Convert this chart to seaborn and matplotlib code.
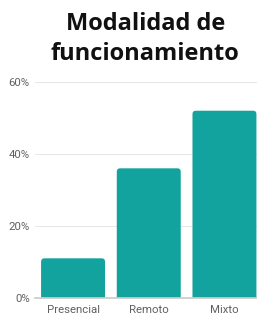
import matplotlib
matplotlib.use('Agg')
import matplotlib.pyplot as plt
import seaborn as sns
import pandas as pd
from matplotlib.patches import FancyBboxPatch
from matplotlib.ticker import PercentFormatter

# values
categories = ['Presencial', 'Remoto', 'Mixto']
values = [11, 36, 52]
y_ticks = [0, 20, 40, 60]

df = pd.DataFrame({'modalidad': categories, 'pct': values})

sns.set_theme(style='white')
plt.rcParams['font.family'] = ['Roboto', 'DejaVu Sans']

fig = plt.figure(figsize=(2.57, 3.2), dpi=100)
ax = fig.add_axes([0.137, 0.069, 0.863, 0.675])

sns.barplot(data=df, x='modalidad', y='pct', color='#13a39f', saturation=1,
            width=0.845, ax=ax)

# swap plain bars for ones with slightly rounded tops
for p in list(ax.patches):
    x, w, h = p.get_x(), p.get_width(), p.get_height()
    rb = FancyBboxPatch((x, -3), w, h + 3,
                        boxstyle='round,pad=0,rounding_size=0.045',
                        mutation_aspect=21, facecolor='#13a39f',
                        edgecolor='none', clip_on=True)
    p.remove()
    ax.add_patch(rb)
    rb.set_clip_path(ax.patch)

ax.set_xlim(-0.5, 2.43)
ax.set_ylim(0, 60)
ax.set_yticks(y_ticks)
ax.yaxis.set_major_formatter(PercentFormatter(decimals=0))
ax.grid(axis='y', color='#e8e8e8', linewidth=0.8)
ax.set_axisbelow(True)
for s in ['top', 'right', 'left']:
    ax.spines[s].set_visible(False)
ax.spines['bottom'].set_color('#cccccc')
ax.set_xlabel('')
ax.set_ylabel('')
ax.tick_params(axis='both', length=0, labelsize=8.2, labelcolor='#606060')
ax.tick_params(axis='x', pad=5)
ax.tick_params(axis='y', pad=4)

fig.text(0.565, 0.925, 'Modalidad de', ha='center', va='center',
         fontsize=17, fontweight='bold', family='Open Sans', color='#111111')
fig.text(0.565, 0.83, 'funcionamiento', ha='center', va='center',
         fontsize=17, fontweight='bold', family='Open Sans', color='#111111')

fig.savefig('out.png', dpi=100)
